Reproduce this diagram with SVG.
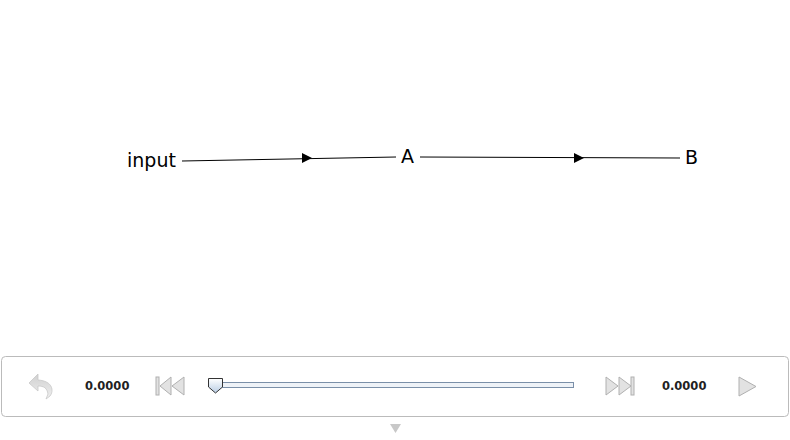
<svg xmlns="http://www.w3.org/2000/svg" width="790" height="440" viewBox="0 0 790 440">
<defs>
<style>
.lbl{font-family:"DejaVu Sans","Liberation Sans",sans-serif;font-size:19px;fill:#000}
.num{font-family:"DejaVu Sans","Liberation Sans",sans-serif;font-size:11.5px;font-weight:bold;fill:#222}
.edge{stroke:#000;stroke-width:1;fill:none}
.ico{fill:#e2e2e2;stroke:#b0b0b0;stroke-width:1}
</style>
<linearGradient id="thumb" x1="0" y1="0" x2="0" y2="1">
<stop offset="0" stop-color="#ffffff"/>
<stop offset="1" stop-color="#b9cde4"/>
</linearGradient>
<linearGradient id="gicon" x1="0" y1="0" x2="0" y2="1">
<stop offset="0" stop-color="#d0d0d0"/>
<stop offset="1" stop-color="#f0f0f0"/>
</linearGradient>
</defs>
<rect width="790" height="440" fill="#fff"/>
<g id="connectors">
<path class="edge" d="M182,161 L396,157"/>
<polygon points="302,153 312,158 302,163" fill="#000"/>
<path class="edge" d="M420,157 L680,158"/>
<polygon points="574,153 584,158 574,163" fill="#000"/>
</g>
<g id="node-input"><text class="lbl" x="127" y="167">input</text></g>
<g id="node-A"><text class="lbl" x="401" y="163">A</text></g>
<g id="node-B"><text class="lbl" x="685" y="164">B</text></g>
<g id="controls">
<rect x="1.5" y="356.5" width="787" height="60" rx="4" fill="#fff" stroke="#bbb"/>
<path d="M38,374 L29,383 L38,391 L38,386 C44,386 47,388 48,394 L46,399 L50,396 C54,391 53,381 38,380 Z" fill="url(#gicon)" stroke="#c8c8c8" stroke-width="0.8"/>
<text class="num" x="85" y="390">0.0000</text>
<rect x="156" y="377" width="3" height="18" class="ico"/>
<polygon points="171,377 160,386 171,395" class="ico"/>
<polygon points="184,377 172,386 184,395" class="ico"/>
<rect x="222.5" y="382.5" width="351" height="5" fill="#eef2f7" stroke="#7a8fa8"/>
<path d="M208.5,378.5 L222.5,378.5 L222.5,387 L215.5,393 L208.5,387 Z" fill="url(#thumb)" stroke="#333"/>
<polygon points="606,377 618,386 606,395" class="ico"/>
<polygon points="619,377 631,386 619,395" class="ico"/>
<rect x="631" y="377" width="3" height="18" class="ico"/>
<text class="num" x="662" y="390">0.0000</text>
<polygon points="739,377 756,386.5 739,396" class="ico"/>
<polygon points="390,424 401,424 395.5,433" fill="#c8c8c8"/>
</g>
</svg>
